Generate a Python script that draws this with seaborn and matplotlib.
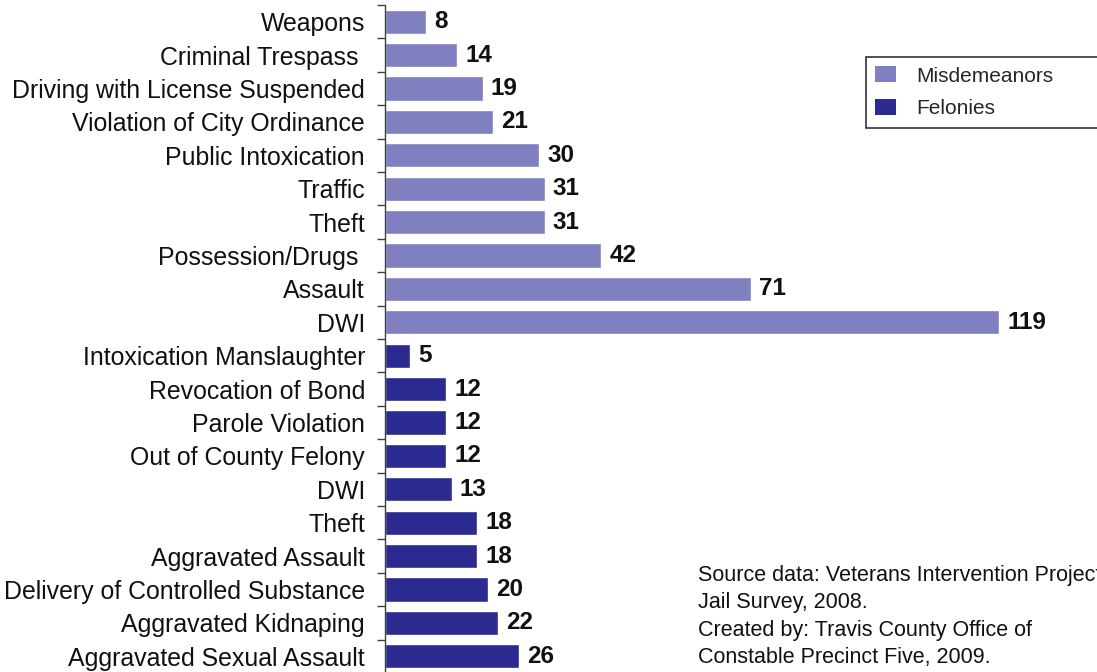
import numpy as np
import pandas as pd
import matplotlib
matplotlib.use("Agg")
import matplotlib.pyplot as plt
import matplotlib.patches as mpatches
import seaborn as sns

misd_labels = ["Weapons", "Criminal Trespass ", "Driving with License Suspended",
               "Violation of City Ordinance", "Public Intoxication", "Traffic", "Theft",
               "Possession/Drugs ", "Assault", "DWI"]
misd_values = [8, 14, 19, 21, 30, 31, 31, 42, 71, 119]

fel_labels = ["Intoxication Manslaughter", "Revocation of Bond", "Parole Violation",
              "Out of County Felony", "DWI", "Theft", "Aggravated Assault",
              "Delivery of Controlled Substance", "Aggravated Kidnaping",
              "Aggravated Sexual Assault"]
fel_values = [5, 12, 12, 12, 13, 18, 18, 20, 22, 26]

series_names = ["Misdemeanors", "Felonies"]
colors = ["#8080c0", "#2a2a90"]

source_text = ("Source data: Veterans Intervention Project\n"
               "Jail Survey, 2008.\n"
               "Created by: Travis County Office of\n"
               "Constable Precinct Five, 2009.")

sns.set_theme(style="white")
plt.rcParams["font.family"] = ["Liberation Sans", "DejaVu Sans"]

labels = misd_labels + fel_labels
values = misd_values + fel_values
types = [series_names[0]] * len(misd_labels) + [series_names[1]] * len(fel_labels)
keys = [f"{i:02d}" for i in range(len(labels))]
df = pd.DataFrame({"key": keys, "label": labels, "value": values, "type": types})

fig = plt.figure(figsize=(10.97, 6.72), dpi=100)
ax = fig.add_axes([384.5 / 1097, -1 / 672, (1097 - 384.5) / 1097, 668 / 672])

sns.barplot(data=df, y="key", x="value", hue="type", hue_order=series_names,
            palette=colors, dodge=False, orient="h", width=0.72, ax=ax,
            legend=False, saturation=1)

ax.set_xlim(0, 138)
ax.set_ylim(len(labels) - 0.5, -0.5)
ax.set_xlabel("")
ax.set_ylabel("")
ax.set_xticks([])
ax.set_yticks(range(len(labels)))
ax.set_yticklabels(labels, fontsize=17.9, color="#111111")
ax.set_yticks(np.arange(-0.5, len(labels), 1), minor=True)
ax.tick_params(axis="y", which="major", length=0, pad=14)
ax.tick_params(axis="y", which="minor", length=6, width=1, color="#404040",
               direction="out", left=True)
for s in ["top", "right", "bottom"]:
    ax.spines[s].set_visible(False)
ax.spines["left"].set_color("#404040")
ax.spines["left"].set_linewidth(1)

for cont in ax.containers:
    ax.bar_label(cont, padding=6, fontsize=17.5, fontweight="bold", color="#111111")

handles = [mpatches.Patch(facecolor=c, edgecolor="none", label=n)
           for c, n in zip(colors, series_names)]
leg = fig.legend(handles=handles, loc="upper left",
                 bbox_to_anchor=(866 / 1097, 1 - 57 / 672 - 0.1, 0.3, 0.1),
                 bbox_transform=fig.transFigure, mode="expand", borderaxespad=0,
                 fontsize=15, frameon=True, fancybox=False, handlelength=1.0,
                 handleheight=0.8, handletextpad=0.95, labelspacing=0.65,
                 borderpad=0.45)
leg.get_frame().set_edgecolor("black")
leg.get_frame().set_linewidth(1.2)

fig.text(698 / 1097, 1 - 565 / 672, source_text, ha="left", va="top",
         fontsize=15.5, linespacing=1.4, color="#111111")

fig.savefig("out.png", dpi=100)
